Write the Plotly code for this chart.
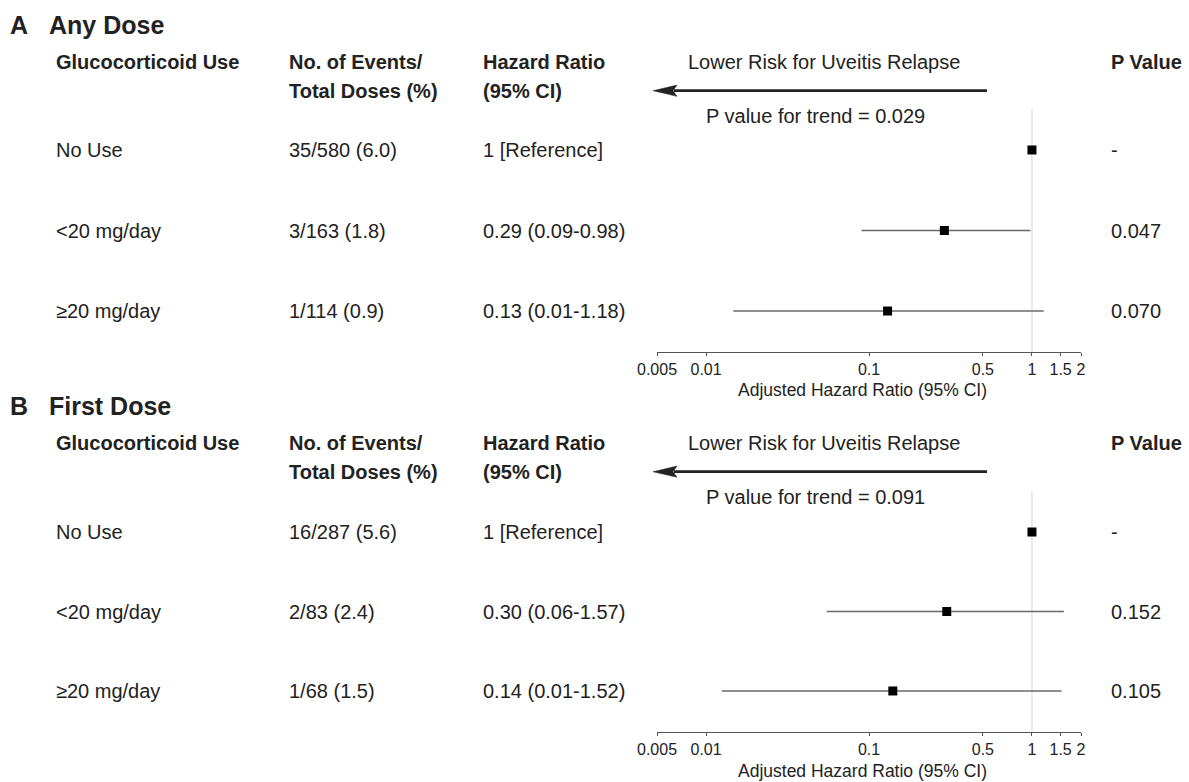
import plotly.graph_objects as go

W, H = 1189, 782

groups = ["No Use", "<20 mg/day", "≥20 mg/day"]

a_events = ["35/580 (6.0)", "3/163 (1.8)", "1/114 (0.9)"]
a_hr_text = ["1 [Reference]", "0.29 (0.09-0.98)", "0.13 (0.01-1.18)"]
a_hr = [1.0, 0.29, 0.13]
a_lo = [None, 0.09, 0.0147]
a_hi = [None, 0.98, 1.18]
a_p = ["-", "0.047", "0.070"]
a_trend = "P value for trend = 0.029"

b_events = ["16/287 (5.6)", "2/83 (2.4)", "1/68 (1.5)"]
b_hr_text = ["1 [Reference]", "0.30 (0.06-1.57)", "0.14 (0.01-1.52)"]
b_hr = [1.0, 0.30, 0.14]
b_lo = [None, 0.055, 0.0125]
b_hi = [None, 1.57, 1.52]
b_p = ["-", "0.152", "0.105"]
b_trend = "P value for trend = 0.091"

tick_vals = [0.005, 0.01, 0.1, 0.5, 1, 1.5, 2]
tick_text = ["0.005", "0.01", "0.1", "0.5", "1", "1.5", "2"]

FONT = "Liberation Sans, Arial, Helvetica, sans-serif"
TXT = "#222222"

def px(x):
    return x / W

def py(y):
    return 1 - y / H

fig = go.Figure()
annotations = []
shapes = []

def text(x, y, s, size=20, bold=False, yref="paper", xanchor="left"):
    annotations.append(dict(
        x=px(x), y=(py(y) if yref == "paper" else y), xref="paper", yref=yref,
        text=(f"<b>{s}</b>" if bold else s), showarrow=False,
        xanchor=xanchor, yanchor="middle", borderpad=0,
        font=dict(family=FONT, size=size, color=TXT)))

panels = [
    dict(letter="A", title="Any Dose", off=0, events=a_events, hrt=a_hr_text, hr=a_hr,
         lo=a_lo, hi=a_hi, p=a_p, trend=a_trend, xa="x", ya="y"),
    dict(letter="B", title="First Dose", off=381, events=b_events, hrt=b_hr_text, hr=b_hr,
         lo=b_lo, hi=b_hi, p=b_p, trend=b_trend, xa="x2", ya="y2"),
]

for k, pn in enumerate(panels):
    o = pn["off"]
    yr = pn["ya"]
    # titles
    text(9, 25 + o, pn["letter"], size=25, bold=True)
    text(48, 25 + o, pn["title"], size=25, bold=True)
    # headers
    text(55, 62 + o, "Glucocorticoid Use", bold=True)
    text(288, 62 + o, "No. of Events/", bold=True)
    text(288, 91 + o, "Total Doses (%)", bold=True)
    text(482, 62 + o, "Hazard Ratio", bold=True)
    text(482, 91 + o, "(95% CI)", bold=True)
    text(687, 62 + o, "Lower Risk for Uveitis Relapse")
    text(1110, 62 + o, "P Value", bold=True)
    text(705, 116 + o, pn["trend"])
    # arrow
    ay = 90.7 + o
    shapes.append(dict(type="line", xref="paper", yref="paper",
                       x0=px(674), x1=px(987), y0=py(ay), y1=py(ay),
                       line=dict(color=TXT, width=2.7)))
    shapes.append(dict(type="path", xref="paper", yref="paper",
                       path=(f"M {px(653)},{py(ay)} L {px(677)},{py(ay - 5.6)} "
                             f"L {px(673)},{py(ay)} L {px(677)},{py(ay + 5.6)} Z"),
                       fillcolor=TXT, line=dict(color=TXT, width=0.5)))
    # rows
    for i, g in enumerate(groups):
        text(55, i, g, yref=yr)
        text(288, i, pn["events"][i], yref=yr)
        text(482, i, pn["hrt"][i], yref=yr)
        text(1110, i, pn["p"][i], yref=yr)
    # axis title
    text(862, 390 + o, "Adjusted Hazard Ratio (95% CI)", size=17.5, xanchor="center")

    # reference line
    rng = [2.509, -0.509] if k == 0 else [2.516, -0.516]
    fig.add_trace(go.Scatter(x=[1, 1], y=[rng[1], rng[0]], mode="lines",
                             line=dict(color="#dcdcdc", width=1.2),
                             xaxis=pn["xa"], yaxis=pn["ya"], hoverinfo="skip",
                             showlegend=False))
    # CI lines
    xs, ys = [], []
    for i in range(len(groups)):
        if pn["lo"][i] is not None:
            xs += [pn["lo"][i], pn["hi"][i], None]
            ys += [i, i, None]
    fig.add_trace(go.Scatter(x=xs, y=ys, mode="lines",
                             line=dict(color="#6a6a6a", width=1.3),
                             xaxis=pn["xa"], yaxis=pn["ya"], showlegend=False))
    fig.add_trace(go.Scatter(x=pn["hr"], y=list(range(len(groups))), mode="markers",
                             marker=dict(symbol="square", size=9, color="black"),
                             xaxis=pn["xa"], yaxis=pn["ya"], showlegend=False))

xdom = [657 / W, 1081 / W]
axis_common = dict(type="log", range=[-2.30103, 0.30103], domain=xdom,
                   showgrid=False, zeroline=False, showline=True, linecolor="#555555",
                   linewidth=1, tickmode="array", tickvals=tick_vals, ticktext=tick_text,
                   ticks="outside", ticklen=3, tickcolor="#555555", automargin=False,
                   tickfont=dict(family=FONT, size=16, color=TXT))

fig.update_layout(
    width=W, height=H,
    margin=dict(l=0, r=0, t=0, b=0, pad=0, autoexpand=False),
    paper_bgcolor="white", plot_bgcolor="white",
    showlegend=False,
    xaxis=dict(anchor="y", **axis_common),
    xaxis2=dict(anchor="y2", **axis_common),
    yaxis=dict(domain=[py(352), py(109)], range=[2.509, -0.509], visible=False,
               automargin=False),
    yaxis2=dict(domain=[py(732), py(491)], range=[2.516, -0.516], visible=False,
                automargin=False),
    annotations=annotations,
    shapes=shapes,
)

fig.write_html("out.html", config={"displayModeBar": False},
               post_script="document.body.style.margin='0';"
               "document.body.style.overflow='hidden';")
